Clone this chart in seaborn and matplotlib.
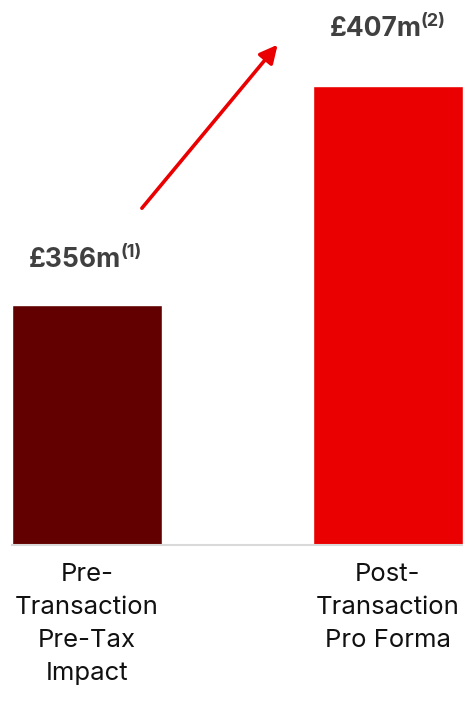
import matplotlib
matplotlib.use("Agg")
import matplotlib.pyplot as plt
import seaborn as sns
import pandas as pd

categories = ["Pre-\nTransaction\nPre-Tax\nImpact", "Post-\nTransaction\nPro Forma"]
values = [356, 407]
value_labels = ["£356m", "£407m"]
footnotes = ["(1)", "(2)"]
bar_colors = ["#620000", "#EA0000"]

sns.set_theme(style="white")
plt.rcParams["font.family"] = ["Inter", "DejaVu Sans"]

fig = plt.figure(figsize=(4.64, 7.02), dpi=100)
ax = fig.add_axes([12 / 464, 157 / 702, 451 / 464, 545 / 702])

df = pd.DataFrame({"cat": categories, "val": values})
sns.barplot(data=df, x="cat", y="val", hue="cat", palette=bar_colors,
            width=0.5, legend=False, ax=ax, saturation=1)

ax.set_xlim(-0.25, 1.25)
ax.set_ylim(300, 427)
ax.set_xlabel("")
ax.set_ylabel("")
ax.set_yticks([])
for s in ["top", "left", "right"]:
    ax.spines[s].set_visible(False)
ax.spines["bottom"].set_color("#d9d9d9")
ax.spines["bottom"].set_linewidth(1.5)

ax.tick_params(axis="x", length=0, pad=13)
ax.set_xticks(range(len(categories)))
ax.set_xticklabels(categories, fontsize=18.5, color="#111111", linespacing=1.56, va="top")

offsets = [38, 50]
for i, (v, lab, fn) in enumerate(zip(values, value_labels, footnotes)):
    t = ax.annotate(lab, xy=(i, v), xytext=(-12, offsets[i]), textcoords="offset pixels",
                    ha="center", va="baseline", fontsize=19, fontweight="bold", color="#404040")
    ax.annotate(fn, xy=(1.0, 0.6), xycoords=t, xytext=(-1, 0), textcoords="offset pixels",
                ha="left", va="baseline", fontsize=13, fontweight="bold", color="#404040")

ax.annotate("", xy=(0.589, 0.918), xytext=(0.288, 0.618), xycoords="axes fraction",
            textcoords="axes fraction",
            arrowprops=dict(arrowstyle="-|>,head_length=0.9,head_width=0.45",
                            color="#EA0000", lw=2.6, shrinkA=0, shrinkB=0))

fig.savefig("out.png", dpi=100)
